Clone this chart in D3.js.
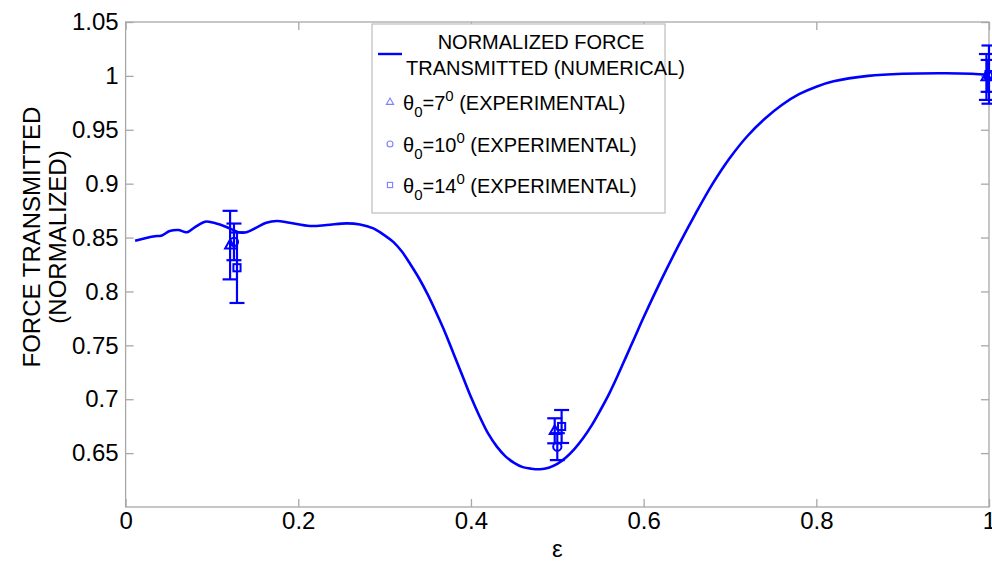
<!DOCTYPE html>
<html><head><meta charset="utf-8">
<script src="https://cdn.jsdelivr.net/npm/d3@7"></script>
<style>body{margin:0;background:#fff}svg{display:block}text{font-family:"Liberation Sans",Arial,sans-serif}</style>
</head><body><svg id="c" width="992" height="566"></svg>
<script>
// Numerical curve (epsilon, normalized force)
const curveX = [0.011,0.032,0.042,0.051,0.061,0.071,0.080,0.092,0.101,0.113,0.123,0.1305,0.140,0.152,0.163,0.175,0.190,0.2136,0.233,0.256,0.2715,0.287,0.30,0.31,0.32,0.33,0.34,0.35,0.36,0.37,0.38,0.39,0.40,0.41,0.42,0.43,0.44,0.45,0.46,0.47,0.48,0.49,0.50,0.51,0.52,0.53,0.54,0.55,0.56,0.57,0.58,0.59,0.60,0.62,0.64,0.66,0.68,0.70,0.72,0.74,0.76,0.78,0.80,0.82,0.86,0.90,0.95,0.98,1.00];
const curveY = [0.847,0.851,0.852,0.856,0.857,0.855,0.8595,0.8647,0.864,0.861,0.8576,0.855,0.855,0.8595,0.8637,0.8653,0.8637,0.8607,0.8616,0.8632,0.8622,0.8585,0.852,0.846,0.837,0.825,0.812,0.797,0.780,0.762,0.742,0.722,0.702,0.684,0.668,0.656,0.647,0.641,0.637,0.6355,0.635,0.6365,0.640,0.646,0.654,0.664,0.676,0.690,0.705,0.722,0.740,0.758,0.776,0.810,0.842,0.872,0.900,0.924,0.944,0.960,0.973,0.983,0.990,0.995,1.000,1.002,1.0025,1.002,1.001];
// Experimental points with error bars
const exp7X  = [0.121, 0.497, 0.997];
const exp7Y  = [0.843, 0.6707, 0.999];
const exp7E  = [0.0318, 0.0116, 0.0213];
const exp10X = [0.1255, 0.500, 0.999];
const exp10Y = [0.846, 0.656, 1.000];
const exp10E = [0.017, 0.0125, 0.0148];
const exp14X = [0.129, 0.505, 1.000];
const exp14Y = [0.822, 0.6747, 1.0012];
const exp14E = [0.0327, 0.0153, 0.027];
const xTicks = [0,0.2,0.4,0.6,0.8,1];
const xTickLabels = ["0","0.2","0.4","0.6","0.8","1"];
const yTicks = [0.65,0.7,0.75,0.8,0.85,0.9,0.95,1,1.05];
const yTickLabels = ["0.65","0.7","0.75","0.8","0.85","0.9","0.95","1","1.05"];

const svg = d3.select("#c");
const L=125.6, R=989, T=22, B=507;
const x = d3.scaleLinear().domain([0,1]).range([L,R]);
const y = d3.scaleLinear().domain([0.6,1.05]).range([B,T]);
const blue = "#0000ff", axisCol="#a8a8a8";

// box
svg.append("rect").attr("x",L).attr("y",T).attr("width",R-L).attr("height",B-T)
  .attr("fill","none").attr("stroke",axisCol).attr("stroke-width",1.3);

// ticks
const tl=8;
const xAxB = d3.axisBottom(x).tickValues(xTicks).tickSize(-tl).tickFormat((d,i)=>xTickLabels[i]).tickPadding(7);
const gxb = svg.append("g").attr("transform",`translate(0,${B})`).call(xAxB);
const xAxT = d3.axisTop(x).tickValues(xTicks).tickSize(-tl).tickFormat("");
const gxt = svg.append("g").attr("transform",`translate(0,${T})`).call(xAxT);
const yAxL = d3.axisLeft(y).tickValues(yTicks).tickSize(-tl).tickFormat((d,i)=>yTickLabels[i]).tickPadding(7);
const gyl = svg.append("g").attr("transform",`translate(${L},0)`).call(yAxL);
const yAxR = d3.axisRight(y).tickValues(yTicks).tickSize(-tl).tickFormat("");
const gyr = svg.append("g").attr("transform",`translate(${R},0)`).call(yAxR);
[gxb,gxt,gyl,gyr].forEach(g=>{
  g.select(".domain").remove();
  g.selectAll(".tick line").attr("stroke",axisCol).attr("stroke-width",1.3);
  g.selectAll("text").attr("fill","#000").attr("font-size",24).attr("font-family",'"Liberation Sans",Arial,sans-serif');
});
gxb.selectAll("text").attr("dy","0.62em");

// curve
const pts = curveX.map((d,i)=>[d,curveY[i]]);
svg.append("path").datum(pts)
  .attr("d", d3.line().x(d=>x(d[0])).y(d=>y(d[1])).curve(d3.curveCatmullRom.alpha(0.5)))
  .attr("fill","none").attr("stroke",blue).attr("stroke-width",2.6);

// markers
function marker(g, type, cx, cy, s, col, sw){
  if(type==="tri"){
    g.append("path").attr("d",`M${cx},${cy-s}L${cx+s*0.9},${cy+s*0.6}L${cx-s*0.9},${cy+s*0.6}Z`)
      .attr("fill","none").attr("stroke",col).attr("stroke-width",sw);
  } else if(type==="circ"){
    g.append("circle").attr("cx",cx).attr("cy",cy).attr("r",s*0.75)
      .attr("fill","none").attr("stroke",col).attr("stroke-width",sw);
  } else {
    g.append("rect").attr("x",cx-s*0.65).attr("y",cy-s*0.65).attr("width",s*1.3).attr("height",s*1.3)
      .attr("fill","none").attr("stroke",col).attr("stroke-width",sw);
  }
}
const sets = [[exp7X,exp7Y,exp7E,"tri"],[exp10X,exp10Y,exp10E,"circ"],[exp14X,exp14Y,exp14E,"sq"]];
const ge = svg.append("g");
sets.forEach(([xs,ys,es,type])=>{
  xs.forEach((xv,i)=>{
    const cx=x(xv), y0=y(ys[i]-es[i]), y1=y(ys[i]+es[i]), cw=7.5;
    ge.append("line").attr("x1",cx).attr("x2",cx).attr("y1",y0).attr("y2",y1).attr("stroke",blue).attr("stroke-width",2.2);
    ge.append("line").attr("x1",cx-cw).attr("x2",cx+cw).attr("y1",y0).attr("y2",y0).attr("stroke",blue).attr("stroke-width",2.2);
    ge.append("line").attr("x1",cx-cw).attr("x2",cx+cw).attr("y1",y1).attr("y2",y1).attr("stroke",blue).attr("stroke-width",2.2);
    marker(ge,type,cx,y(ys[i]),5.5,blue,2);
  });
});

// axis labels
svg.append("text").attr("x",x(0.5)).attr("y",557).attr("text-anchor","middle").attr("font-size",24).text("ε");
const yl = svg.append("g").attr("transform","translate(0,237) rotate(-90)");
yl.append("text").attr("x",0).attr("y",40).attr("text-anchor","middle").attr("font-size",24).text("FORCE TRANSMITTED");
yl.append("text").attr("x",0).attr("y",66).attr("text-anchor","middle").attr("font-size",24).text("(NORMALIZED)");

// legend
const lg = svg.append("g");
lg.append("rect").attr("x",372).attr("y",24).attr("width",293).attr("height",189)
  .attr("fill","#fff").attr("stroke","#bdbdbd").attr("stroke-width",1.2);
lg.append("line").attr("x1",378).attr("x2",402).attr("y1",54).attr("y2",54).attr("stroke",blue).attr("stroke-width",2.4);
lg.append("text").attr("x",541).attr("y",49).attr("text-anchor","middle").attr("font-size",20).text("NORMALIZED FORCE");
lg.append("text").attr("x",406).attr("y",75).attr("font-size",20).text("TRANSMITTED (NUMERICAL)");
const legItems = [["tri","7",110],["circ","10",152],["sq","14",193]];
const lc = "#7f7fff";
legItems.forEach(([type,deg,by])=>{
  marker(lg,type,390,by-8,4,lc,1.1);
  const t = lg.append("text").attr("x",403).attr("y",by).attr("font-size",20);
  t.append("tspan").text("θ");
  t.append("tspan").attr("font-size",15).attr("dy",7).text("0");
  t.append("tspan").attr("dy",-7).text("="+deg);
  t.append("tspan").attr("font-size",15).attr("dy",-9).text("0");
  t.append("tspan").attr("dy",9).text(" (EXPERIMENTAL)");
});
</script></body></html>
